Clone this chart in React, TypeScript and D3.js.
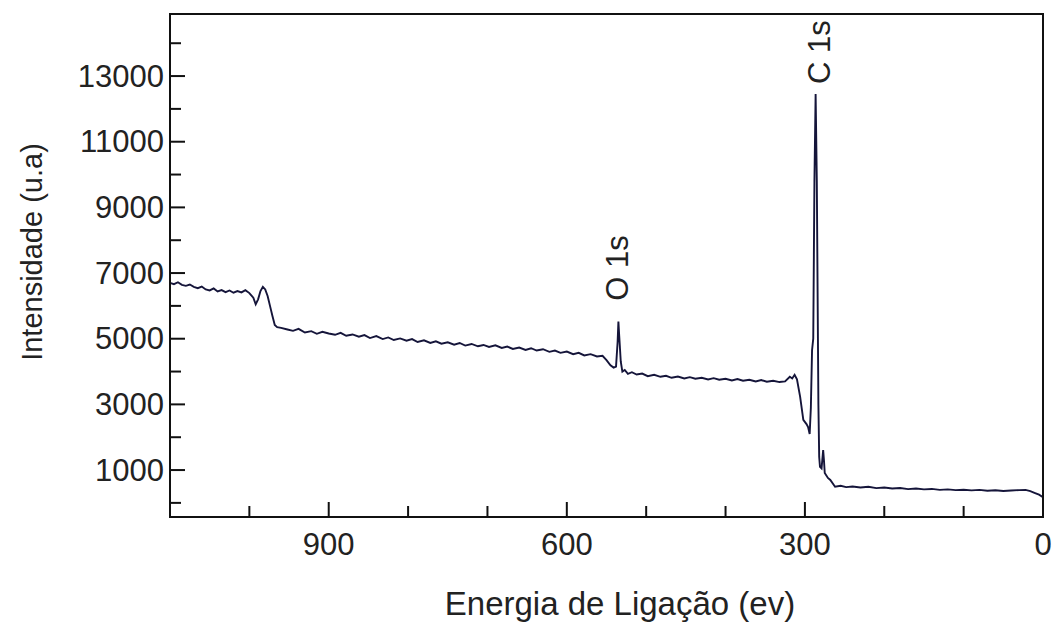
import * as d3 from "d3";

// binding energy (eV) and intensity (u.a)
const energy = [
  1100, 1095, 1090, 1085, 1080, 1075, 1070, 1065, 1060, 1055, 1050, 1045, 1040, 1035, 1030, 1025, 1020, 1015, 1010, 1005,
  1000, 995, 992, 989, 986, 983, 980, 977, 974, 971, 968, 965,
  960, 952, 945, 938, 930, 922, 915, 908, 900, 892, 885, 878, 870, 862, 855, 848, 840, 832, 825, 818, 810, 802,
  795, 788, 780, 772, 765, 758, 750, 742, 735, 728, 720, 712, 705, 698, 690, 682, 675, 668, 660, 652, 645, 638,
  630, 622, 615, 608, 600, 592, 585, 578, 570, 562, 555, 550, 545, 541, 538, 536, 535, 534, 532, 530, 527, 523,
  518, 512, 505, 498, 490, 482, 475, 468, 460, 452, 445, 438, 430, 422, 415, 408, 400, 392, 385, 378, 370, 362,
  355, 348, 340, 332, 325, 319, 316, 313, 310, 306, 302, 298, 296, 294, 292.5, 291, 289.5, 288, 286.5, 285, 283,
  282, 281, 279, 277, 276, 275, 271, 268, 262, 255, 248, 240, 230, 220, 210, 200, 190, 180, 170, 160, 150, 140,
  130, 120, 110, 100, 90, 80, 70, 60, 50, 40, 30, 22, 16, 10, 5, 0,
];
const intensity = [
  6700, 6660, 6720, 6640, 6610, 6650, 6580, 6540, 6590, 6500, 6470, 6530, 6440, 6480, 6420, 6470, 6400, 6450, 6410, 6480,
  6390, 6250, 6050, 6200, 6450, 6580, 6500, 6300, 6000, 5700, 5420, 5350,
  5330, 5280, 5240, 5300, 5190, 5230, 5150, 5210, 5160, 5120, 5180, 5090, 5130, 5060, 5110, 5020, 5080, 4990, 5040, 4960, 5010, 4940,
  4990, 4900, 4950, 4870, 4920, 4850, 4890, 4820, 4870, 4790, 4840, 4770, 4810, 4750, 4800, 4720, 4760, 4690, 4730, 4660, 4710, 4640,
  4680, 4600, 4640, 4570, 4610, 4530, 4570, 4490, 4530, 4460, 4480, 4350, 4190, 4120, 4150, 4900, 5520, 5100, 4300, 4000, 4050, 3930,
  3980, 3910, 3940, 3860, 3900, 3840, 3870, 3810, 3850, 3790, 3830, 3780, 3810, 3760, 3800, 3750, 3780, 3730, 3770, 3720, 3750, 3700,
  3740, 3690, 3720, 3680, 3700, 3840, 3790, 3900, 3760, 3230, 2530, 2400, 2310, 2100, 2900, 4650, 5000, 9800, 12450, 9800, 3000,
  1400, 1100, 1050, 1610, 1300, 910, 760, 700, 490, 520, 480, 500, 470, 490, 450, 470, 440, 455, 420, 440, 410, 425,
  395, 410, 390, 400, 380, 395, 370, 385, 360, 375, 390, 395, 360, 300, 250, 170,
];

const xMajor = [900, 600, 300, 0];
const xMinor = [1000, 800, 700, 500, 400, 200, 100];
const yMajor = [1000, 3000, 5000, 7000, 9000, 11000, 13000];
const yMinor = [0, 2000, 4000, 6000, 8000, 10000, 12000, 14000];

const peaks = [
  { label: "O 1s", e: 535, y: 268, dx: 10 },
  { label: "C 1s", e: 286.5, y: 52, dx: 14 },
];

const W = 1058;
const H = 625;
const left = 170, right = 1043, top = 14, bottom = 517;
const font = "'Liberation Sans', Arial, sans-serif";
const ink = "#222";

export default function App() {
  const x = d3.scaleLinear([1100, 0], [left, right]);
  const y = d3.scaleLinear([-430, 14890], [bottom, top]);
  const pts = energy.map((e, i) => [e, intensity[i]] as [number, number]);
  const line = d3.line<[number, number]>().x((d) => x(d[0])).y((d) => y(d[1]));

  return (
    <svg width={W} height={H} style={{ position: "absolute", left: 0, top: 0, background: "#fff" }}>
      <path d={line(pts) ?? ""} fill="none" stroke="#15153a" strokeWidth={1.9} strokeLinejoin="miter" />
      <rect x={left} y={top} width={right - left} height={bottom - top} fill="none" stroke="#111" strokeWidth={2} />

      <g stroke="#111" strokeWidth={2}>
        {xMajor.map((v) => <line key={"xM" + v} x1={x(v)} x2={x(v)} y1={bottom} y2={bottom - 15} />)}
        {xMinor.map((v) => <line key={"xm" + v} x1={x(v)} x2={x(v)} y1={bottom} y2={bottom - 11} />)}
        {yMajor.map((v) => <line key={"yM" + v} x1={left} x2={left + 15} y1={y(v)} y2={y(v)} />)}
        {yMinor.map((v) => <line key={"ym" + v} x1={left} x2={left + 11} y1={y(v)} y2={y(v)} />)}
      </g>

      <g fontFamily={font} fontSize={31} fill={ink}>
        {xMajor.map((v) => (
          <text key={"xl" + v} x={x(v)} y={555} textAnchor="middle">{v}</text>
        ))}
        {yMajor.map((v) => (
          <text key={"yl" + v} x={164} y={y(v)} textAnchor="end" dominantBaseline="central">{v}</text>
        ))}
      </g>

      <g fontFamily={font} fontSize={31} fill={ink}>
        {peaks.map((p) => (
          <text key={p.label} transform={`translate(${x(p.e) + p.dx},${p.y}) rotate(-90)`} textAnchor="middle">{p.label}</text>
        ))}
      </g>

      <text x={620} y={615} textAnchor="middle" fontFamily={font} fontSize={33} fill={ink}>
        Energia de Ligação (ev)
      </text>
      <text transform={`translate(42,252) rotate(-90)`} textAnchor="middle" fontFamily={font} fontSize={29} fill={ink}>
        Intensidade (u.a)
      </text>
    </svg>
  );
}
